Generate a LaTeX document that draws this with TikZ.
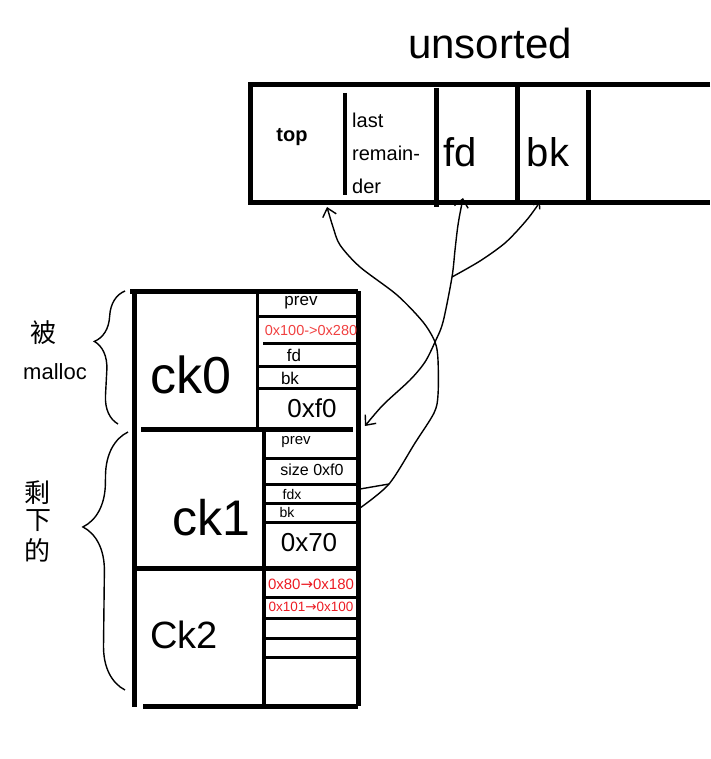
\documentclass[tikz,border=0pt]{standalone}
\usepackage{fontspec}
\setmainfont{Liberation Sans}
\newfontfamily\cjk{Noto Sans CJK SC}
\newfontfamily\arrowfont{DejaVu Sans}
\usetikzlibrary{arrows.meta,decorations.pathreplacing}
\definecolor{penred}{RGB}{236,28,36}
\definecolor{typered}{RGB}{240,64,64}
\begin{document}
\begin{tikzpicture}[x=1pt,y=-1pt,>={Straight Barb[length=8pt,width=14pt]},
    bold/.style={line width=5pt},
    wall/.style={line width=4pt},
    rowline/.style={line width=3pt},
    hand/.style={line width=1.4pt},
    big/.style={font=\fontsize{#1}{#1}\selectfont, inner sep=0pt}]
\useasboundingbox (0,0) rectangle (710,759);

% unsorted bin
\node[big=42] (title) at (490,43) {unsorted};
\draw[bold] (710,85)--(250,85)--(250,203)--(710,203);
\draw[wall] (345,93)--(345,195);
\draw[bold] (436,88)--(436,207);
\draw[bold] (517,85)--(517,203);
\draw[bold] (588,90)--(588,203);
\node[big=20] (top) at (292,137) {\bfseries top};
\node[font=\fontsize{20}{33}\selectfont, inner sep=0pt, anchor=west, align=left] (last) at (352,153) {last\\remain-\\der};
\node[big=40] (fd) at (460,152) {fd};
\node[big=40] (bk) at (548,152) {bk};

% chunks
\draw[bold] (134,291)--(134,707);
\draw[bold] (130,291)--(358,291);
\draw[bold] (358,291)--(358,706);
\draw[bold] (143,706)--(358,706);
\draw[bold] (141,429)--(353,429);
\draw[bold] (134,568)--(358,568);
\draw[rowline] (257,291)--(257,429);
\draw[wall] (264,429)--(264,706);

\draw[rowline] (257,316)--(358,316);
\draw[rowline] (263,343)--(358,343);
\draw[rowline] (257,366)--(358,366);
\draw[rowline] (257,388)--(358,388);

\draw[rowline] (264,458)--(358,458);
\draw[rowline] (264,484)--(358,484);
\draw[rowline] (264,503)--(358,503);
\draw[rowline] (264,522)--(358,522);

\draw[rowline] (264,597)--(358,597);
\draw[rowline] (266,618)--(358,618);
\draw[rowline] (264,638)--(358,638);
\draw[rowline] (264,657)--(358,657);

\node[big=52] (ck0) at (191,375) {ck0};
\node[big=50] (ck1) at (211,518) {ck1};
\node[big=38] (ck2) at (184,635) {Ck2};

\node[big=17] (ck0prev) at (301,303) {prev};
\node[big=14.5, text=typered] (ck0size) at (311,331) {0x100->0x280};
\node[big=17] (ck0fd) at (294,355) {fd};
\node[big=17] (ck0bk) at (290,378) {bk};
\node[big=26] (ck0next) at (312,408) {0xf0};

\node[big=15] (ck1prev) at (296,442) {prev};
\node[big=16] (ck1size) at (312,470) {size 0xf0};
\node[big=14] (ck1fd) at (292,494) {fdx};
\node[big=14] (ck1bk) at (287,512) {bk};
\node[big=26] (ck1next) at (309,543) {0x70};

\node[big=15, text=penred] (ck2prev) at (311,584) {0x80{\arrowfont→}0x180};
\node[big=13.5, text=penred] (ck2size) at (311,607) {0x101{\arrowfont→}0x100};

% side labels
\draw[hand, decorate, decoration={brace, mirror, amplitude=28pt, aspect=0.39}] (125,291)--(118,424);
\draw[hand, decorate, decoration={brace, mirror, amplitude=44pt, aspect=0.37}] (128,432)--(125,690);
\node[big=26] (bei) at (43,333) {\cjk 被};
\node[big=22] (malloc) at (55,372) {malloc};
\node[big=26] (sheng) at (37,493) {\cjk 剩};
\node[big=26] (xia) at (38,521) {\cjk 下};
\node[big=26] (de) at (37,550) {\cjk 的};

% pointers
\coordinate (topcell) at (327,207);
\coordinate (fdcell) at (463,198);
\coordinate (bkcell) at (540,202);
\coordinate (ck0end) at (365,426);
\coordinate (ck1fdend) at (360,489);
\coordinate (ck1bkend) at (360,508);
\coordinate (fork) at (389,484);
\coordinate (join) at (452,277);

\draw[hand,->] plot[smooth] coordinates {(ck1bkend) (fork) (415,443) (434,413) (438,395) (438,360) (435,342) (423,322) (397,295) (360,267) (340,245) (333,227) (topcell)};
\draw[hand] (ck1fdend)--(fork);
\draw[hand,<->] plot[smooth] coordinates {(fdcell) (458,225) (455,250) (join) (443,322) (435,342) (425,362) (410,380) (383,405) (ck0end)};
\draw[hand,<-,>={Straight Barb[length=5pt,width=8pt]}] plot[smooth] coordinates {(bkcell) (525,222) (505,243) (480,261) (join)};

\end{tikzpicture}
\end{document}
